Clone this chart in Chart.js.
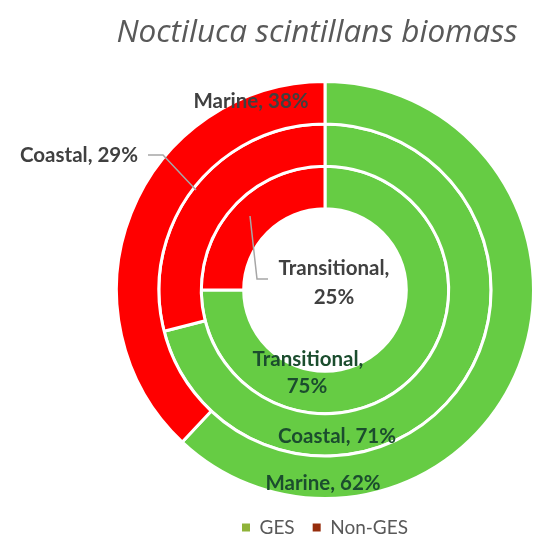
<!DOCTYPE html>
<html>
<head>
<meta charset="utf-8">
<script src="https://cdn.jsdelivr.net/npm/chart.js@4.4.1/dist/chart.umd.min.js"></script>
<style>
  html, body { margin: 0; padding: 0; background: #fff; }
</style>
</head>
<body>
<canvas id="myChart" width="550" height="547"></canvas>
<script>
// rings from outside to inside
let ringNames = ['Marine', 'Coastal', 'Transitional'];
let categories = ['GES', 'Non-GES'];
let gesValues = [62, 71, 75];
let nonGesValues = [38, 29, 25];
let sliceColors = ['#66CC44', '#FF0000'];
let legendColors = ['#8FB339', '#962D0C'];
let chartTitle = 'Noctiluca scintillans biomass';

// where each label sits, in px from the doughnut centre (ring, category index)
let labelSpots = [
  {ring: 0, cat: 1, lines: [[-74, -189]]},
  {ring: 1, cat: 1, lines: [[-246, -135]], leader: [[-177, -135], [-162, -135], [-129, -100]]},
  {ring: 2, cat: 1, lines: [[9, -22], [9, 7]], leader: [[-75, -74], [-68, -11], [-57, -11]]},
  {ring: 2, cat: 0, lines: [[-17, 69], [-18, 96]]},
  {ring: 1, cat: 0, lines: [[12, 146]]},
  {ring: 0, cat: 0, lines: [[-2, 193]]}
];

const ringLabels = {
  id: 'ringLabels',
  afterDatasetsDraw(chart) {
    let ctx = chart.ctx;
    let first = chart.getDatasetMeta(0).data[0];
    let cx = first.x, cy = first.y;
    ctx.save();
    ctx.font = 'bold 20.5px Lato';
    ctx.textAlign = 'center';
    ctx.textBaseline = 'middle';
    labelSpots.forEach(s => {
      let value = chart.data.datasets[s.ring].data[s.cat];
      let text = ringNames[s.ring] + ', ' + value + '%';
      let parts = s.lines.length > 1 ? [ringNames[s.ring] + ',', value + '%'] : [text];
      if (s.leader) {
        ctx.strokeStyle = '#A6A6A6';
        ctx.lineWidth = 1.5;
        ctx.beginPath();
        s.leader.forEach((p, i) => {
          if (i === 0) ctx.moveTo(cx + p[0], cy + p[1]);
          else ctx.lineTo(cx + p[0], cy + p[1]);
        });
        ctx.stroke();
      }
      ctx.fillStyle = s.cat === 0 ? '#1B4D2E' : '#404040';
      parts.forEach((t, i) => {
        ctx.fillText(t, cx + s.lines[i][0], cy + s.lines[i][1]);
      });
    });
    ctx.restore();
  }
};

const topTitle = {
  id: 'topTitle',
  afterDraw(chart) {
    let ctx = chart.ctx;
    ctx.save();
    ctx.font = 'italic 31.5px "Open Sans"';
    ctx.fillStyle = '#595959';
    ctx.textAlign = 'center';
    ctx.textBaseline = 'middle';
    ctx.fillText(chartTitle, 317, 33);
    ctx.restore();
  }
};

let datasets = ringNames.map((name, i) => ({
  label: name,
  data: [gesValues[i], nonGesValues[i]],
  backgroundColor: sliceColors,
  borderColor: '#fff',
  borderWidth: 3
}));

let myChart = new Chart(document.getElementById('myChart'), {
  type: 'doughnut',
  data: {
    labels: categories,
    datasets: datasets
  },
  options: {
    responsive: false,
    animation: false,
    events: [],
    cutout: '39%',
    layout: {
      padding: {top: 80, left: 115, right: 15, bottom: 0}
    },
    plugins: {
      tooltip: {enabled: false},
      legend: {
        position: 'bottom',
        labels: {
          boxWidth: 8,
          boxHeight: 8,
          padding: 18,
          color: '#595959',
          font: {family: 'Lato', size: 19},
          generateLabels: () => categories.map((c, i) => ({
            text: c,
            fillStyle: legendColors[i],
            strokeStyle: legendColors[i],
            lineWidth: 0,
            fontColor: '#595959',
            hidden: false,
            index: i
          }))
        }
      }
    }
  },
  plugins: [ringLabels, topTitle]
});
</script>
</body>
</html>
